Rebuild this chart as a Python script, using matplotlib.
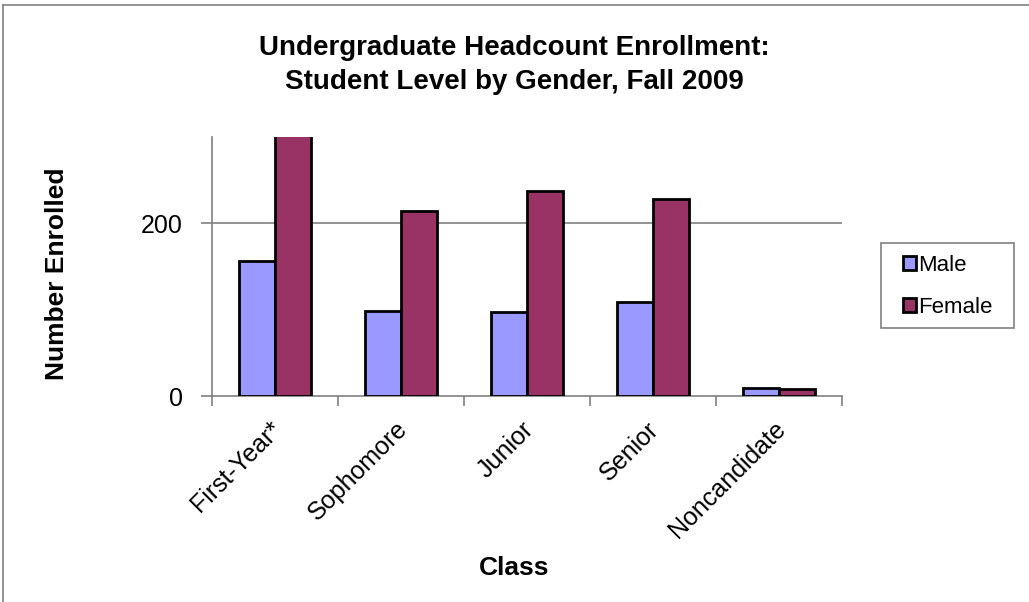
import matplotlib.pyplot as plt
import matplotlib.transforms as mtransforms
import numpy as np
from matplotlib.lines import Line2D
from matplotlib.patches import Rectangle

plt.rcParams['font.family'] = ['Liberation Sans', 'DejaVu Sans']

classes = ['First-Year*', 'Sophomore', 'Junior', 'Senior', 'Noncandidate']
male = [156, 99, 97, 109, 9]
female = [320, 214, 238, 228, 8]

fig = plt.figure(figsize=(10.29, 6.02), dpi=100)
ax = fig.add_axes([212/1029, 1-396/602, 630/1029, 259/602])

x = np.arange(len(classes))
w = 0.286
ax.bar(x - w/2, male, w, color='#9999FF', edgecolor='black', linewidth=2.0, label='Male', zorder=3)
ax.bar(x + w/2, female, w, color='#993366', edgecolor='black', linewidth=2.0, label='Female', zorder=3)

ax.set_xlim(-0.5, len(classes) - 0.5)
ax.set_ylim(0, 300)
ax.set_yticks([0, 200])
ax.set_yticklabels(['0', '200'], fontsize=18)
ax.axhline(200, color='#808080', linewidth=1.2, zorder=1)

# tick marks between categories, labels drawn as rotated text ending near each centre
ax.set_xticks(np.arange(len(classes) + 1) - 0.5)
ax.set_xticklabels([])
ax.tick_params(axis='x', length=7, color='#808080', width=1.2)
ax.tick_params(axis='y', length=8, color='#808080', width=1.2, pad=13)
lab_tr = ax.get_xaxis_transform() + mtransforms.ScaledTranslation(-0.06, -0.21, fig.dpi_scale_trans)
for xi, name in zip(x, classes):
    ax.text(xi, 0, name, transform=lab_tr, rotation=45, ha='right', va='top',
            rotation_mode='anchor', fontsize=18)

for s in ['top', 'right']:
    ax.spines[s].set_visible(False)
for s in ['left', 'bottom']:
    ax.spines[s].set_color('#808080')
    ax.spines[s].set_linewidth(1.2)

fig.text(514/1029, 1-55/602, 'Undergraduate Headcount Enrollment:', ha='center', va='baseline',
         fontsize=20, fontweight='bold')
fig.text(514/1029, 1-89/602, 'Student Level by Gender, Fall 2009', ha='center', va='baseline',
         fontsize=20, fontweight='bold')
fig.text(57/1029, 1-274/602, 'Number Enrolled', rotation=90, ha='center', va='center',
         fontsize=19, fontweight='bold')
fig.text(514/1029, 1-568/602, 'Class', ha='center', va='center', fontsize=19, fontweight='bold')

fig.legend(loc='upper left', bbox_to_anchor=(903/1029, 1-255/602), fontsize=16,
           frameon=False, handlelength=0.6, handleheight=0.6, handletextpad=0.1,
           borderpad=0, borderaxespad=0, labelspacing=0.95)
fig.add_artist(Rectangle((881/1029, 1-328/602), 133/1029, 85/602, transform=fig.transFigure,
                         fill=False, edgecolor='#808080', linewidth=1.2))

fig.add_artist(Line2D([3/1029, 3/1029], [0, 1-5/602], color='#808080', linewidth=1.2))
fig.add_artist(Line2D([3/1029, 1], [1-5/602, 1-5/602], color='#808080', linewidth=1.2))

fig.savefig('out.png', dpi=100)
